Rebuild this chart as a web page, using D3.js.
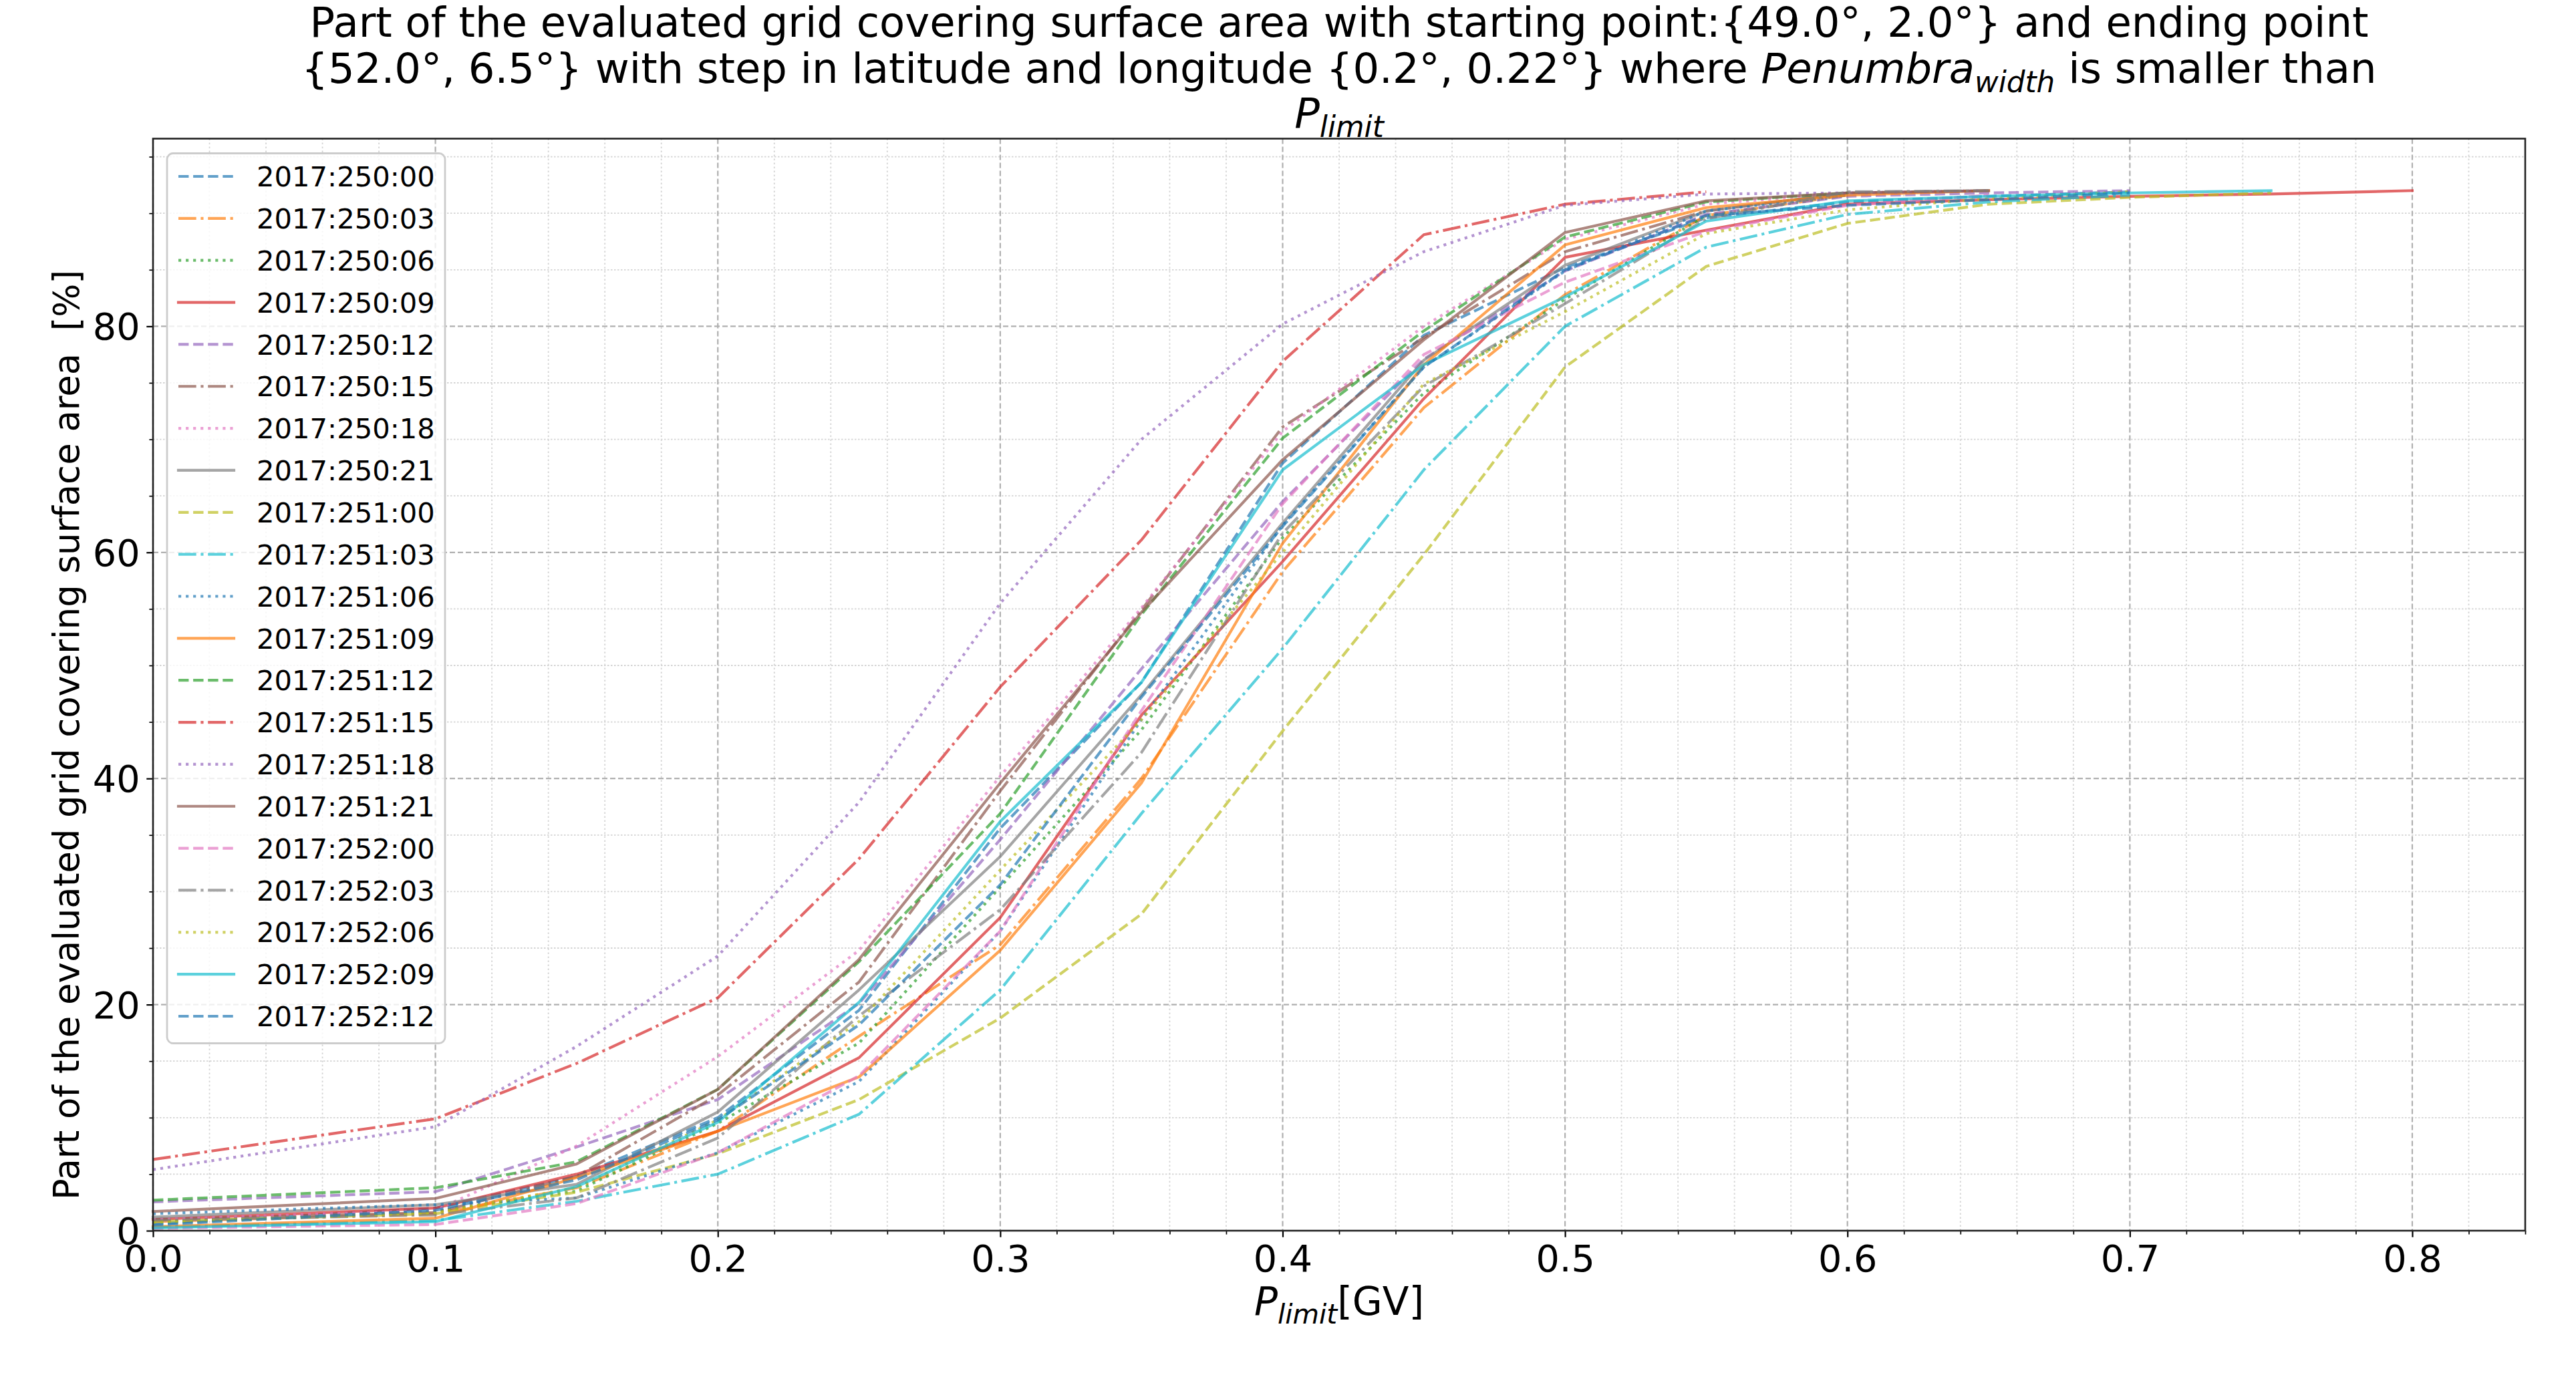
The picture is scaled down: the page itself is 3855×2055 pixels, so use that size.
<!DOCTYPE html>
<html>
<head>
<meta charset="utf-8">
<script src="https://cdn.jsdelivr.net/npm/d3@7"></script>
<style>
  html, body { margin: 0; padding: 0; background: #ffffff; }
  svg { display: block; font-family: "DejaVu Sans", sans-serif; }
</style>
</head>
<body>
<svg id="chart" width="3855" height="2055"></svg>
<script>
// ---------------- DATA ----------------
const xValues = [0, 0.1, 0.15, 0.2, 0.25, 0.3, 0.35, 0.4, 0.45, 0.5, 0.55, 0.6, 0.65, 0.7, 0.75, 0.8];

const seriesNames = [
  "2017:250:00", "2017:250:03", "2017:250:06", "2017:250:09", "2017:250:12",
  "2017:250:15", "2017:250:18", "2017:250:21", "2017:251:00", "2017:251:03",
  "2017:251:06", "2017:251:09", "2017:251:12", "2017:251:15", "2017:251:18",
  "2017:251:21", "2017:252:00", "2017:252:03", "2017:252:06", "2017:252:09",
  "2017:252:12"
];

const s250_00 = [0.6, 2.0, 4.8, 10.0, 19.5, 35.6, 48.5, 67.9, 79.2, 85.2, 89.6, 91.0, 91.5, 91.9];
const s250_03 = [0.8, 1.5, 3.8, 8.8, 17.2, 25.3, 40.0, 58.3, 72.8, 82.8, 89.8, 91.6];
const s250_06 = [0.8, 1.7, 3.5, 9.5, 16.6, 30.4, 44.3, 61.3, 74.1, 82.4, 89.8, 91.6];
const s250_09 = [1.0, 2.0, 5.0, 8.8, 15.3, 27.7, 45.6, 59.2, 73.6, 86.1, 88.5, 90.8, 91.2, 91.5, 91.7, 92.0];
const s250_12 = [2.55, 3.45, 7.4, 11.6, 20.1, 34.6, 49.7, 64.5, 77.1, 84.9, 89.9, 91.5, 91.8, 92.0];
const s250_15 = [1.0, 1.6, 4.8, 12.0, 22.0, 38.9, 54.9, 71.1, 79.0, 86.6, 90.2, 91.8, 92.0];
const s250_18 = [1.0, 1.8, 7.5, 15.4, 24.8, 40.2, 55.1, 70.7, 80.0, 87.7, 90.8, 91.8];
const s250_21 = [1.2, 2.3, 4.1, 10.5, 21.3, 33.1, 47.4, 62.6, 77.0, 85.4, 90.2, 91.8];
const s251_00 = [0.8, 1.5, 3.4, 6.8, 11.6, 18.8, 28.0, 44.2, 59.8, 76.4, 85.3, 89.1, 90.8, 91.4, 91.8];
const s251_03 = [0.3, 0.9, 2.6, 5.0, 10.3, 21.3, 36.9, 51.5, 67.3, 80.0, 87.0, 89.9, 91.0, 91.6];
const s251_06 = [1.5, 2.3, 2.9, 6.9, 13.2, 26.5, 45.2, 62.4, 76.4, 84.9, 90.2, 91.6];
const s251_09 = [0.35, 1.1, 4.7, 8.8, 13.6, 24.8, 39.6, 60.8, 76.6, 87.2, 90.5, 91.6, 92.0];
const s251_12 = [2.7, 3.8, 6.1, 12.5, 23.8, 36.9, 54.5, 70.1, 79.6, 87.9, 91.0, 91.8];
const s251_15 = [6.3, 9.9, 14.8, 20.6, 32.9, 48.1, 61.1, 76.9, 88.1, 90.8, 91.9];
const s251_18 = [5.4, 9.2, 16.3, 24.3, 37.9, 55.5, 70.0, 80.2, 86.6, 90.7, 91.7, 91.8, 92.0];
const s251_21 = [1.7, 2.85, 5.9, 12.5, 24.0, 39.6, 54.7, 68.2, 78.8, 88.3, 91.1, 91.8, 92.0];
const s252_00 = [0.2, 0.55, 2.4, 6.9, 13.7, 26.5, 46.0, 64.3, 77.5, 83.9, 88.4, 90.7, 91.6];
const s252_03 = [0.9, 1.4, 2.9, 8.2, 19.0, 28.4, 42.3, 61.7, 74.7, 82.0, 89.5, 91.9, 92.0];
const s252_06 = [0.7, 1.6, 3.8, 9.8, 18.5, 31.9, 45.2, 60.0, 74.9, 81.3, 88.2, 90.3, 91.3, 91.9];
const s252_09 = [0.25, 0.8, 3.9, 9.6, 20.2, 36.2, 48.5, 67.3, 76.6, 82.6, 89.3, 91.1, 91.5, 91.8, 92.0];
const s252_12 = [0.5, 1.8, 4.5, 9.8, 18.2, 30.6, 47.2, 62.3, 76.4, 85.0, 89.8, 90.7, 91.2, 91.8];

const seriesValues = [
  s250_00, s250_03, s250_06, s250_09, s250_12, s250_15, s250_18, s250_21,
  s251_00, s251_03, s251_06, s251_09, s251_12, s251_15, s251_18, s251_21,
  s252_00, s252_03, s252_06, s252_09, s252_12
];

const xTickValues = [0, 0.1, 0.2, 0.3, 0.4, 0.5, 0.6, 0.7, 0.8];
const yTickValues = [0, 20, 40, 60, 80];

const titleLine1 = "Part of the evaluated grid covering surface area with starting point:{49.0°, 2.0°} and ending point";
const titleLine2a = "{52.0°, 6.5°} with step in latitude and longitude {0.2°, 0.22°} where ";
const titleLine2b = "Penumbra";
const titleLine2c = "width";
const titleLine2d = " is smaller than";
const yLabelText = "Part of the evaluated grid covering surface area  [%]";

// ---------------- STYLE ----------------
const palette = ["#1f77b4", "#ff7f0e", "#2ca02c", "#d62728", "#9467bd",
                 "#8c564b", "#e377c2", "#7f7f7f", "#bcbd22", "#17becf"];
const lw = 4.17;
const dashStyles = [
  [3.7 * lw, 1.6 * lw],                       // dashed
  [6.4 * lw, 1.6 * lw, 1 * lw, 1.6 * lw],     // dash-dot
  [1 * lw, 1.65 * lw],                        // dotted
  null                                        // solid
];

const svg = d3.select("#chart");
const axL = 229, axR = 3779, axT = 207.5, axB = 1842;

const x = d3.scaleLinear().domain([0, 0.84]).range([axL, axR]);
const y = d3.scaleLinear().domain([0, 96.6]).range([axB, axT]);

svg.append("rect").attr("width", 3855).attr("height", 2055).attr("fill", "#ffffff");

// ---------------- GRID ----------------
const grid = svg.append("g");
const xMinor = d3.range(0, 0.8401, 0.02).filter(v => Math.abs(v * 10 - Math.round(v * 10)) > 1e-6);
const yMinor = d3.range(0, 96.6, 5).filter(v => v % 20 !== 0);

grid.selectAll(".xminor").data(xMinor).enter().append("line")
  .attr("x1", d => x(d)).attr("x2", d => x(d)).attr("y1", axT).attr("y2", axB)
  .attr("stroke", "#d4d4d4").attr("stroke-width", 1.8).attr("stroke-dasharray", "2.5,3.5");
grid.selectAll(".yminor").data(yMinor).enter().append("line")
  .attr("x1", axL).attr("x2", axR).attr("y1", d => y(d)).attr("y2", d => y(d))
  .attr("stroke", "#d4d4d4").attr("stroke-width", 1.8).attr("stroke-dasharray", "2.5,2.5");
grid.selectAll(".xmajor").data(xTickValues).enter().append("line")
  .attr("x1", d => x(d)).attr("x2", d => x(d)).attr("y1", axT).attr("y2", axB)
  .attr("stroke", "#b0b0b0").attr("stroke-width", 2.2).attr("stroke-dasharray", "8,4");
grid.selectAll(".ymajor").data(yTickValues).enter().append("line")
  .attr("x1", axL).attr("x2", axR).attr("y1", d => y(d)).attr("y2", d => y(d))
  .attr("stroke", "#b0b0b0").attr("stroke-width", 2.2).attr("stroke-dasharray", "8,4");

// ---------------- LINES ----------------
const lineGen = d3.line()
  .x((d, i) => x(xValues[i]))
  .y(d => y(d));

const plot = svg.append("g");
seriesValues.forEach((vals, k) => {
  const dash = dashStyles[k % 4];
  plot.append("path")
    .datum(vals)
    .attr("d", lineGen)
    .attr("fill", "none")
    .attr("stroke", palette[k % 10])
    .attr("stroke-opacity", 0.7)
    .attr("stroke-width", lw)
    .attr("stroke-linejoin", "round")
    .attr("stroke-linecap", dash ? "butt" : "square")
    .attr("stroke-dasharray", dash ? dash.join(",") : null);
});

// ---------------- AXES ----------------
const tickFont = 55.6;
const xAxis = d3.axisBottom(x).tickValues(xTickValues).tickFormat(d3.format(".1f"))
  .tickSize(9.7).tickPadding(9.7);
const xAxisMinor = d3.axisBottom(x).tickValues(xMinor).tickFormat("").tickSize(5.6);
const yAxis = d3.axisLeft(y).tickValues(yTickValues).tickFormat(d3.format("d"))
  .tickSize(9.7).tickPadding(9.7);
const yAxisMinor = d3.axisLeft(y).tickValues(yMinor).tickFormat("").tickSize(5.6);

function styleAxis(g, w) {
  g.select(".domain").remove();
  g.selectAll(".tick line").attr("stroke", "#000").attr("stroke-width", w);
  g.selectAll(".tick text").attr("fill", "#000")
    .style("font-family", "'DejaVu Sans'").style("font-size", tickFont + "px");
  g.attr("font-size", null).attr("font-family", null);
}
svg.append("g").attr("transform", `translate(0,${axB})`).call(xAxisMinor).call(g => styleAxis(g, 1.7));
svg.append("g").attr("transform", `translate(0,${axB})`).call(xAxis).call(g => styleAxis(g, 2.2))
  .selectAll(".tick text").attr("dy", null).attr("y", 9.7 + 9.7).attr("dominant-baseline", "hanging");
svg.append("g").attr("transform", `translate(${axL},0)`).call(yAxisMinor).call(g => styleAxis(g, 1.7));
svg.append("g").attr("transform", `translate(${axL},0)`).call(yAxis).call(g => styleAxis(g, 2.2))
  .selectAll(".tick text").attr("dy", "0.35em");

// spines
svg.append("rect").attr("x", axL).attr("y", axT).attr("width", axR - axL).attr("height", axB - axT)
  .attr("fill", "none").attr("stroke", "#222").attr("stroke-width", 2.6);

// ---------------- LEGEND ----------------
const legFont = 41.7;
const leg = svg.append("g");
leg.append("rect").attr("x", 250).attr("y", 229.5).attr("width", 416).attr("height", 1332)
  .attr("rx", 9).attr("ry", 9)
  .attr("fill", "#ffffff").attr("fill-opacity", 0.8)
  .attr("stroke", "#cccccc").attr("stroke-width", 2.8);
seriesNames.forEach((name, k) => {
  const cy = 264 + 62.85 * k;
  const dash = dashStyles[k % 4];
  leg.append("line")
    .attr("x1", 267).attr("x2", 350).attr("y1", cy).attr("y2", cy)
    .attr("stroke", palette[k % 10]).attr("stroke-opacity", 0.7).attr("stroke-width", lw)
    .attr("stroke-linecap", dash ? "butt" : "square")
    .attr("stroke-dasharray", dash ? dash.join(",") : null);
  leg.append("text")
    .attr("x", 384).attr("y", cy + 0.3645 * legFont)
    .attr("font-size", legFont).attr("fill", "#000")
    .text(name);
});

// ---------------- TITLE ----------------
const tFont = 62.4;
const title = svg.append("g").attr("text-anchor", "middle").attr("fill", "#000")
  .attr("font-size", tFont);
const cx = (axL + axR) / 2;
title.append("text").attr("x", cx).attr("y", 55).text(titleLine1);
const t2 = title.append("text").attr("x", cx).attr("y", 124);
t2.append("tspan").text(titleLine2a);
t2.append("tspan").attr("font-style", "italic").text(titleLine2b);
t2.append("tspan").attr("font-style", "italic").attr("font-size", tFont * 0.7).attr("dy", tFont * 0.22).text(titleLine2c);
t2.append("tspan").attr("dy", -tFont * 0.22).text(titleLine2d);
const t3 = title.append("text").attr("x", cx).attr("y", 191);
t3.append("tspan").attr("font-style", "italic").text("P");
t3.append("tspan").attr("font-style", "italic").attr("font-size", tFont * 0.7).attr("dy", tFont * 0.22).text("limit");

// ---------------- AXIS LABELS ----------------
const xlFont = 58;
const xl = svg.append("text").attr("x", cx).attr("y", 1968).attr("text-anchor", "middle")
  .attr("font-size", xlFont).attr("fill", "#000");
xl.append("tspan").attr("font-style", "italic").text("P");
xl.append("tspan").attr("font-style", "italic").attr("font-size", xlFont * 0.7).attr("dy", xlFont * 0.22).text("limit");
xl.append("tspan").attr("dy", -xlFont * 0.22).text("[GV]");

svg.append("text")
  .attr("transform", `translate(118,1100) rotate(-90)`)
  .attr("text-anchor", "middle")
  .attr("xml:space", "preserve")
  .style("white-space", "pre")
  .attr("font-size", 52.8).attr("fill", "#000")
  .text(yLabelText);
</script>
</body>
</html>
